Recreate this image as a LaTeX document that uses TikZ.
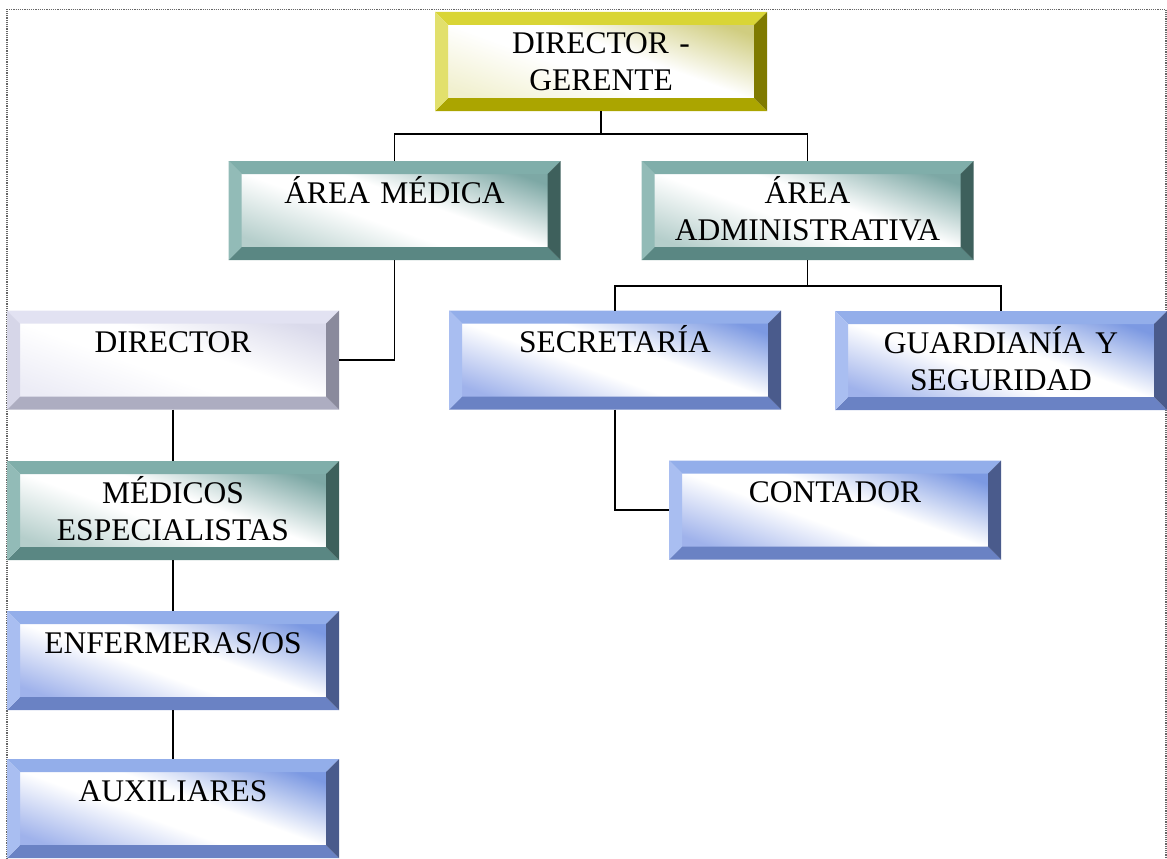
\documentclass[tikz,border=0pt]{standalone}
\usepackage{fontspec}
\setmainfont{Liberation Serif}
% yellow
\definecolor{yT}{HTML}{D9D536}\definecolor{yL}{HTML}{E2E06C}\definecolor{yR}{HTML}{7F7A00}\definecolor{yB}{HTML}{ABA500}
\definecolor{yFL}{HTML}{F1F0CF}\definecolor{yFR}{HTML}{D0CD80}
% teal
\definecolor{tT}{HTML}{80AEAA}\definecolor{tL}{HTML}{92BBB7}\definecolor{tR}{HTML}{3E605C}\definecolor{tB}{HTML}{5A8783}
\definecolor{tFL}{HTML}{B5CECB}\definecolor{tFR}{HTML}{7DA8A5}
% lavender
\definecolor{lT}{HTML}{E2E2F2}\definecolor{lL}{HTML}{D6D6E8}\definecolor{lR}{HTML}{8A8A9C}\definecolor{lB}{HTML}{ADADC1}
\definecolor{lFL}{HTML}{ECECF6}\definecolor{lFR}{HTML}{DADAEB}
% blue
\definecolor{bT}{HTML}{93AEEA}\definecolor{bL}{HTML}{A9BEF1}\definecolor{bR}{HTML}{4A5B8C}\definecolor{bB}{HTML}{6A82C4}
\definecolor{bFL}{HTML}{9FB2EB}\definecolor{bFR}{HTML}{7C99E2}
\pgfdeclarehorizontalshading{yface}{100bp}{color(0bp)=(yFL); color(22bp)=(yFL); color(44bp)=(white); color(56bp)=(white); color(78bp)=(yFR); color(100bp)=(yFR)}
\pgfdeclarehorizontalshading{tface}{100bp}{color(0bp)=(tFL); color(22bp)=(tFL); color(44bp)=(white); color(56bp)=(white); color(78bp)=(tFR); color(100bp)=(tFR)}
\pgfdeclarehorizontalshading{lface}{100bp}{color(0bp)=(lFL); color(22bp)=(lFL); color(44bp)=(white); color(56bp)=(white); color(78bp)=(lFR); color(100bp)=(lFR)}
\pgfdeclarehorizontalshading{bface}{100bp}{color(0bp)=(bFL); color(22bp)=(bFL); color(44bp)=(white); color(56bp)=(white); color(78bp)=(bFR); color(100bp)=(bFR)}
\newcommand\bevdraw[1]{%
  \coordinate (NW) at (path picture bounding box.north west);
  \coordinate (NE) at (path picture bounding box.north east);
  \coordinate (SW) at (path picture bounding box.south west);
  \coordinate (SE) at (path picture bounding box.south east);
  \path[shading=#1face, shading angle=70]
    ([shift={(12pt,-12pt)}]NW) rectangle ([shift={(-12pt,12pt)}]SE);
  \fill[#1T] (NW) -- (NE) -- ([shift={(-13pt,-13pt)}]NE) -- ([shift={(13pt,-13pt)}]NW) -- cycle;
  \fill[#1B] (SW) -- (SE) -- ([shift={(-13pt,13pt)}]SE) -- ([shift={(13pt,13pt)}]SW) -- cycle;
  \fill[#1L] (NW) -- (SW) -- ([shift={(13pt,13pt)}]SW) -- ([shift={(13pt,-13pt)}]NW) -- cycle;
  \fill[#1R] (NE) -- (SE) -- ([shift={(-13pt,13pt)}]SE) -- ([shift={(-13pt,-13pt)}]NE) -- cycle;
}
\begin{document}
\begin{tikzpicture}[x=1pt,y=-1pt,
  bevbox/.style={minimum width=332pt, minimum height=99pt, inner sep=0pt, outer sep=0pt,
    text width=320pt, align=center, text height=20pt, text depth=35pt,
    font=\fontsize{31.5}{37}\selectfont, path picture={\bevdraw{#1}}},
  conn/.style={draw=black, line width=1.4pt}]
\useasboundingbox (0,0) rectangle (1167,859);
\draw[gray!80!black, densely dotted, line width=1.2pt] (7,859) -- (7,9.5) -- (1166,9.5) -- (1166,859);

\node[bevbox=y] (dg) at (601,61.5) {DIRECTOR -\\GERENTE};
\node[bevbox=t] (am) at (394.5,210.5) {ÁREA MÉDICA};
\node[bevbox=t] (aa) at (807.5,210.5) {ÁREA\\ADMINISTRATIVA};
\node[bevbox=l] (dir) at (173,360) {DIRECTOR};
\node[bevbox=b] (sec) at (615,360) {SECRETARÍA};
\node[bevbox=b] (gua) at (1001,360.5) {GUARDIANÍA Y\\SEGURIDAD};
\node[bevbox=b] (con) at (835,510) {CONTADOR};
\node[bevbox=t] (med) at (173,510.5) {MÉDICOS\\ESPECIALISTAS};
\node[bevbox=b] (enf) at (173,660.5) {ENFERMERAS/OS};
\node[bevbox=b] (aux) at (173,808.5) {AUXILIARES};

\draw[conn] (dg.south) -- ++(0,23) -| (am.north);
\draw[conn] (dg.south) -- ++(0,23) -| (aa.north);
\draw[conn] (am.south) |- (dir.east);
\draw[conn] (aa.south) -- ++(0,26) -| (sec.north);
\draw[conn] (aa.south) -- ++(0,26) -| (gua.north);
\draw[conn] (sec.south) |- (con.west);
\draw[conn] (dir.south) -- (med.north);
\draw[conn] (med.south) -- (enf.north);
\draw[conn] (enf.south) -- (aux.north);
\end{tikzpicture}
\end{document}
